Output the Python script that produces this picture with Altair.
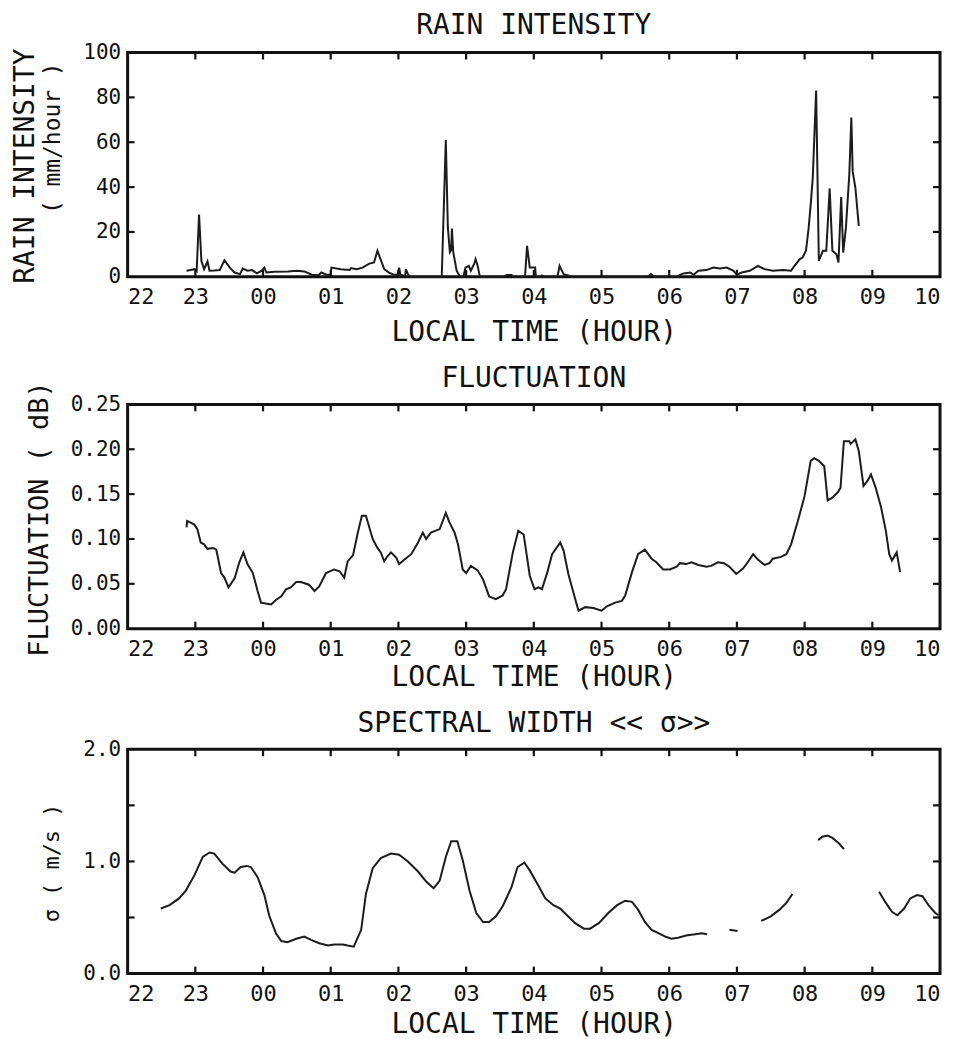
import altair as alt
import pandas as pd

FONT = "DejaVu Sans Mono"
HOUR_LABELS = ['22', '23', '00', '01', '02', '03', '04', '05', '06', '07', '08', '09', '10']
HOUR_TICKS = list(range(13))

# hours after 22:00 local time
rain_h = [0.87, 0.93, 0.99, 1.02, 1.055, 1.09, 1.13, 1.18, 1.21, 1.28, 1.36, 1.43, 1.51, 1.58, 1.66,
          1.70, 1.77, 1.84, 1.91, 1.98, 2.02, 2.05, 2.17, 2.37, 2.50, 2.61, 2.72, 2.82, 2.86, 2.94,
          3.00, 3.01, 3.15, 3.28, 3.30, 3.38, 3.47, 3.57, 3.64, 3.69, 3.73, 3.79, 3.86, 3.93, 3.99,
          4.01, 4.03, 4.10, 4.11, 4.14, 4.17, 4.64, 4.70, 4.73, 4.76, 4.78, 4.79, 4.81, 4.86, 4.91,
          4.96, 4.99, 5.04, 5.07, 5.12, 5.14, 5.17, 5.20, 5.21, 5.55, 5.60, 5.67, 5.70, 5.87, 5.90,
          5.94, 6.02, 6.03, 6.10, 6.12, 6.15, 6.35, 6.38, 6.44, 6.53, 6.56, 7.68, 7.73, 7.78, 8.12,
          8.16, 8.21, 8.31, 8.36, 8.43, 8.55, 8.65, 8.75, 8.85, 8.95, 9.00, 9.07, 9.19, 9.31, 9.41,
          9.53, 9.68, 9.80, 9.85, 9.93, 9.97, 10.02, 10.06, 10.09, 10.12, 10.17, 10.21, 10.27, 10.32,
          10.37, 10.41, 10.47, 10.50, 10.54, 10.57, 10.61, 10.66, 10.69, 10.71, 10.75, 10.80]
rain_v = [2.7, 3.0, 3.4, 2.5, 27.8, 7.0, 3.4, 6.8, 2.7, 2.8, 3.0, 7.4, 4.1, 1.9, 1.2,
          3.7, 2.7, 3.0, 1.5, 2.7, 4.1, 1.9, 2.2, 2.4, 2.7, 2.4, 0.9, 0.7, 1.9, 0.9,
          0.9, 4.1, 3.4, 3.0, 3.9, 3.4, 4.1, 5.9, 6.4, 11.6, 8.3, 3.4, 1.9, 0.9, 0.9,
          4.1, 0.9, 0.4, 3.4, 1.2, 0.0, 0.0, 61.0, 22.0, 11.0, 12.0, 21.5, 11.0, 2.7, 0.0,
          0.0, 4.1, 4.9, 2.7, 5.9, 7.9, 4.9, 0.5, 0.0, 0.0, 0.8, 0.8, 0.0, 0.0, 13.8,
          4.1, 4.1, 0.0, 0.0, 0.6, 0.0, 0.0, 4.9, 1.2, 0.4, 0.0, 0.0, 1.2, 0.0, 0.0,
          0.9, 1.5, 1.9, 0.9, 2.7, 3.0, 4.1, 3.7, 4.1, 2.7, 0.9, 1.9, 2.7, 4.9, 3.4,
          2.7, 3.0, 2.7, 4.9, 7.9, 8.6, 11.6, 21.9, 32.3, 44.0, 83.0, 7.1, 11.6, 11.6,
          39.4, 11.6, 10.0, 6.4, 35.6, 10.8, 21.9, 45.6, 71.0, 47.0, 39.7, 22.7]

fluc_h = [0.87, 0.88, 0.91, 0.985, 1.03, 1.08, 1.13, 1.18, 1.26, 1.31, 1.38, 1.43, 1.49, 1.58, 1.65,
          1.71, 1.77, 1.85, 1.92, 1.97, 2.04, 2.12, 2.19, 2.27, 2.34, 2.41, 2.49, 2.56, 2.68, 2.76,
          2.83, 2.93, 3.05, 3.13, 3.20, 3.25, 3.33, 3.40, 3.46, 3.52, 3.62, 3.69, 3.74, 3.79, 3.84,
          3.89, 3.97, 4.01, 4.09, 4.19, 4.29, 4.36, 4.41, 4.48, 4.61, 4.70, 4.75, 4.83, 4.88, 4.95,
          5.00, 5.07, 5.17, 5.25, 5.34, 5.44, 5.54, 5.59, 5.69, 5.77, 5.85, 5.94, 6.01, 6.07, 6.12,
          6.20, 6.27, 6.39, 6.44, 6.51, 6.59, 6.66, 6.76, 6.88, 7.00, 7.08, 7.20, 7.30, 7.35, 7.45,
          7.54, 7.64, 7.74, 7.81, 7.91, 8.01, 8.11, 8.16, 8.25, 8.33, 8.43, 8.55, 8.62, 8.72, 8.81,
          8.89, 8.99, 9.09, 9.16, 9.24, 9.31, 9.41, 9.48, 9.53, 9.65, 9.73, 9.80, 9.90, 10.00, 10.09,
          10.14, 10.21, 10.29, 10.34, 10.41, 10.49, 10.53, 10.58, 10.66, 10.68, 10.75, 10.80, 10.87,
          10.93, 10.98, 11.05, 11.13, 11.20, 11.25, 11.29, 11.36, 11.39, 11.41]
fluc_v = [0.113, 0.120, 0.119, 0.116, 0.111, 0.096, 0.094, 0.089, 0.090, 0.088, 0.062, 0.057, 0.046, 0.056, 0.074,
          0.085, 0.072, 0.062, 0.042, 0.029, 0.028, 0.027, 0.032, 0.036, 0.044, 0.046, 0.052, 0.052, 0.049, 0.042,
          0.047, 0.062, 0.066, 0.064, 0.057, 0.075, 0.082, 0.107, 0.126, 0.126, 0.100, 0.090, 0.085, 0.075, 0.081,
          0.085, 0.079, 0.072, 0.077, 0.083, 0.096, 0.107, 0.100, 0.107, 0.111, 0.129, 0.119, 0.107, 0.094, 0.066,
          0.062, 0.070, 0.065, 0.055, 0.036, 0.033, 0.037, 0.044, 0.085, 0.109, 0.105, 0.059, 0.044, 0.046, 0.044,
          0.063, 0.083, 0.096, 0.087, 0.061, 0.039, 0.020, 0.024, 0.023, 0.020, 0.025, 0.029, 0.031, 0.037, 0.063,
          0.083, 0.088, 0.078, 0.074, 0.066, 0.066, 0.069, 0.073, 0.072, 0.074, 0.071, 0.069, 0.070, 0.074, 0.073,
          0.069, 0.061, 0.067, 0.074, 0.083, 0.077, 0.071, 0.073, 0.078, 0.080, 0.083, 0.094, 0.120, 0.148, 0.187,
          0.190, 0.187, 0.181, 0.143, 0.146, 0.152, 0.157, 0.209, 0.209, 0.206, 0.211, 0.198, 0.159,
          0.165, 0.172, 0.157, 0.135, 0.109, 0.083, 0.076, 0.085, 0.072, 0.063]

sw_h = [0.49, 0.62, 0.76, 0.86, 0.99, 1.11, 1.21, 1.28, 1.40, 1.52, 1.58, 1.67, 1.76, 1.82, 1.92,
        2.02, 2.09, 2.19, 2.27, 2.36, 2.49, 2.61, 2.71, 2.83, 2.96, 3.05, 3.18, 3.25, 3.34, 3.45,
        3.52, 3.62, 3.74, 3.89, 4.01, 4.14, 4.29, 4.41, 4.52, 4.61, 4.70, 4.78, 4.87, 4.95, 5.05,
        5.15, 5.25, 5.34, 5.44, 5.54, 5.67, 5.76, 5.86, 5.94, 6.07, 6.17, 6.29, 6.39, 6.49, 6.61,
        6.74, 6.83, 6.96, 7.10, 7.23, 7.35, 7.45, 7.54, 7.64, 7.74, 7.84, 7.94, 8.03, 8.13, 8.25,
        8.38, 8.48, 8.56,
        8.89, 9.01,
        9.36, 9.50, 9.63, 9.73, 9.82,
        10.20, 10.26, 10.34, 10.41, 10.51, 10.58,
        11.10, 11.20, 11.29, 11.37, 11.47, 11.56, 11.66, 11.74, 11.83, 11.93, 11.98]
sw_v = [0.58, 0.61, 0.67, 0.74, 0.88, 1.04, 1.08, 1.07, 0.98, 0.91, 0.90, 0.95, 0.96, 0.95, 0.86,
        0.70, 0.52, 0.36, 0.29, 0.28, 0.31, 0.33, 0.30, 0.27, 0.25, 0.26, 0.26, 0.25, 0.24, 0.39,
        0.71, 0.94, 1.03, 1.07, 1.06, 1.00, 0.91, 0.82, 0.76, 0.83, 1.04, 1.18, 1.18, 1.01, 0.74,
        0.54, 0.46, 0.46, 0.51, 0.60, 0.77, 0.95, 0.99, 0.92, 0.78, 0.67, 0.61, 0.58, 0.52, 0.45,
        0.40, 0.40, 0.45, 0.54, 0.61, 0.65, 0.64, 0.57, 0.46, 0.39, 0.36, 0.33, 0.31, 0.32, 0.34,
        0.35, 0.36, 0.35,
        0.39, 0.38,
        0.47, 0.51, 0.57, 0.63, 0.71,
        1.19, 1.22, 1.23, 1.21, 1.16, 1.11,
        0.73, 0.63, 0.55, 0.52, 0.58, 0.67, 0.70, 0.69, 0.61, 0.54, 0.52]
sw_seg = [1] * 78 + [2] * 2 + [3] * 5 + [4] * 6 + [5] * 11

W, H = 815, 225
TK = 7  # inward tick length in px
LINE = "#1c1c1c"
INK = "#111"
label_expr = "[" + ",".join("'%s'" % s for s in HOUR_LABELS) + "][datum.value]"


def panel(df, ydomain, yvals, ylabel_expr, title, title_y, ytitles, xtitle_pad, detail=None):
    xs = alt.Scale(domain=[0, 12], nice=False, zero=False)
    ys = alt.Scale(domain=ydomain, nice=False, zero=False)
    x_axis = alt.Axis(
        values=HOUR_TICKS, labelExpr=label_expr, orient="bottom", ticks=False, domain=False,
        grid=False, labelPadding=10, labelFontSize=22, labelFont=FONT, labelColor=INK,
        title="LOCAL TIME (HOUR)", titlePadding=xtitle_pad, titleFontSize=28,
        titleFont=FONT, titleFontWeight="normal", titleColor=INK)
    y_axis = alt.Axis(
        values=yvals, labelExpr=ylabel_expr, orient="left", ticks=False, domain=False,
        grid=False, labelPadding=7, labelFontSize=21, labelFont=FONT, labelColor=INK,
        title=None)
    enc = dict(x=alt.X("h:Q", scale=xs, axis=x_axis), y=alt.Y("v:Q", scale=ys, axis=y_axis))
    if detail:
        enc["detail"] = detail
    main = alt.Chart(df).mark_line(color=LINE, strokeWidth=2).encode(**enc)

    # inward tick marks on all four sides
    xt = pd.DataFrame({"h": HOUR_TICKS[1:-1]})
    yt = pd.DataFrame({"v": yvals[1:-1]})
    rule = dict(color=INK, strokeWidth=2.2)
    xbot = alt.Chart(xt).mark_rule(**rule).encode(
        x=alt.X("h:Q", scale=xs, axis=None), y=alt.value(H), y2=alt.value(H - TK))
    xtop = alt.Chart(xt).mark_rule(**rule).encode(
        x=alt.X("h:Q", scale=xs, axis=None), y=alt.value(0), y2=alt.value(TK))
    yl = alt.Chart(yt).mark_rule(**rule).encode(
        y=alt.Y("v:Q", scale=ys, axis=None), x=alt.value(0), x2=alt.value(TK))
    yr = alt.Chart(yt).mark_rule(**rule).encode(
        y=alt.Y("v:Q", scale=ys, axis=None), x=alt.value(W), x2=alt.value(W - TK))
    layers = [main, xbot, xtop, yl, yr]
    layers.append(
        alt.Chart(pd.DataFrame({"t": [title]})).mark_text(
            align="center", baseline="middle", font=FONT, fontSize=28, color=INK
        ).encode(x=alt.value(W / 2), y=alt.value(title_y), text="t:N"))
    for text, xpos, ypos, size in ytitles:
        layers.append(
            alt.Chart(pd.DataFrame({"t": [text]})).mark_text(
                angle=270, align="center", baseline="middle", font=FONT, fontSize=size,
                color=INK).encode(x=alt.value(xpos), y=alt.value(ypos), text="t:N"))
    return alt.layer(*layers).resolve_axis(x="independent", y="independent").properties(
        width=W, height=H)


rain_df = pd.DataFrame({"h": rain_h, "v": rain_v})
fluc_df = pd.DataFrame({"h": fluc_h, "v": fluc_v})
sw_df = pd.DataFrame({"h": sw_h, "v": sw_v, "seg": sw_seg})

top = panel(rain_df, [0, 100], [0, 20, 40, 60, 80, 100], "format(datum.value, 'd')",
            "RAIN INTENSITY", -27,
            [("RAIN INTENSITY", -102, 114, 28), ("( mm/hour )", -75, 86, 23)], 11)
mid = panel(fluc_df, [0, 0.25], [0, 0.05, 0.10, 0.15, 0.20, 0.25],
            "format(datum.value, '.2f')", "FLUCTUATION", -25,
            [("FLUCTUATION ( dB)", -88, 115, 27)], 4)
bot = panel(sw_df, [0, 2], [0, 0.5, 1.0, 1.5, 2.0],
            "datum.value % 1 == 0 ? format(datum.value, '.1f') : ''",
            "SPECTRAL WIDTH << σ>>", -25,
            [("σ ( m/s )", -76, 114, 22)], 6, detail="seg:N")

chart = alt.vconcat(top, mid, bot, spacing=15).properties(
    padding={"left": 2, "top": 0, "right": 2, "bottom": 0},
    background="white"
).configure_view(stroke=INK, strokeWidth=3)

chart.save("out.html", embed_options={"renderer": "svg", "actions": False})
